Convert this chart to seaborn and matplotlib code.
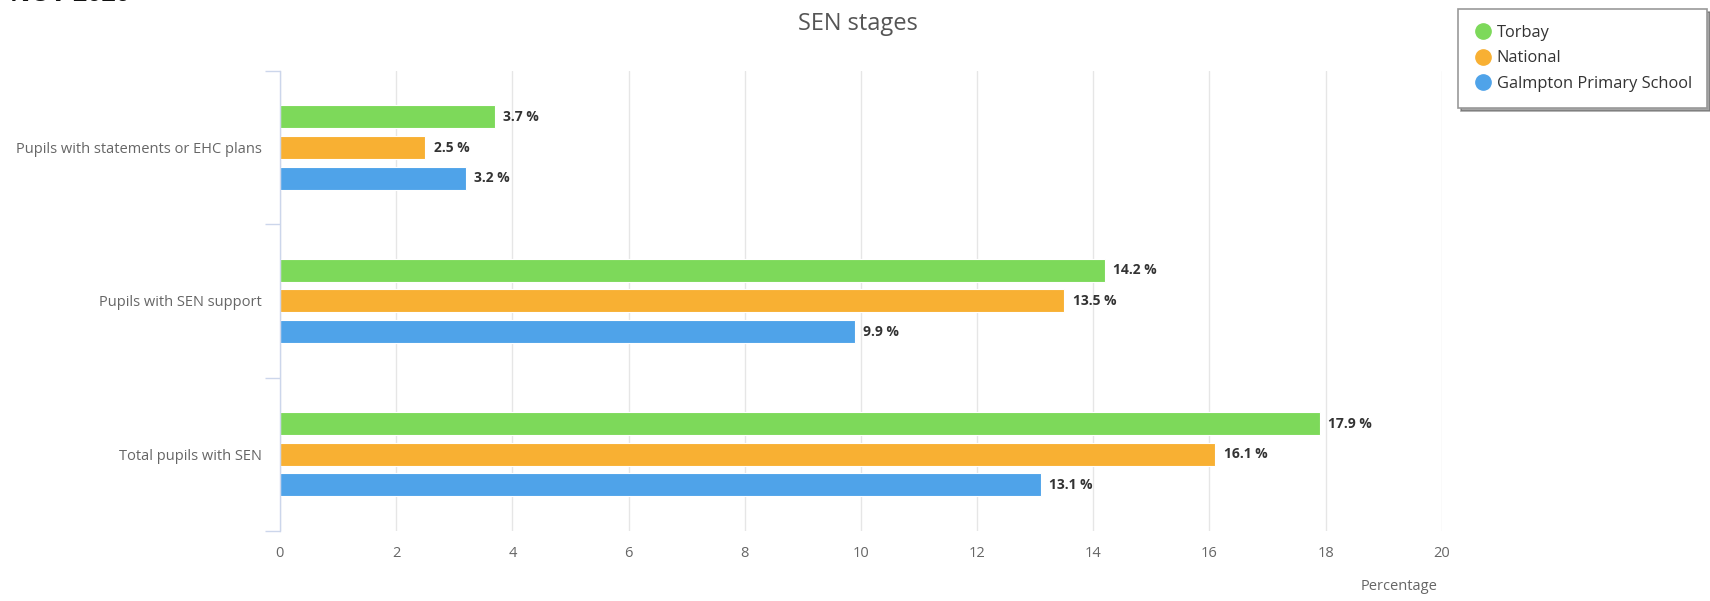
import pandas as pd
import matplotlib.pyplot as plt
import seaborn as sns
from matplotlib.ticker import FixedLocator

# Chart data
categories = ["Pupils with statements or EHC plans", "Pupils with SEN support", "Total pupils with SEN"]
series = ["Torbay", "National", "Galmpton Primary School"]
torbay = [3.7, 14.2, 17.9]
national = [2.5, 13.5, 16.1]
galmpton = [3.2, 9.9, 13.1]
colors = ["#7dd95a", "#f8b033", "#4fa3e9"]

rows = []
for name, vals in zip(series, [torbay, national, galmpton]):
    for cat, v in zip(categories, vals):
        rows.append({"Category": cat, "Series": name, "Value": v})
df = pd.DataFrame(rows)

sns.set_style("white")
plt.rcParams['font.family'] = ['Open Sans', 'DejaVu Sans']

fig = plt.figure(figsize=(17.1, 6.01), dpi=100)
ax = fig.add_axes([0.1637, 0.1165, 0.6795, 0.7654])

sns.barplot(data=df, y="Category", x="Value", hue="Series", order=categories,
            hue_order=series, palette=colors, saturation=1, orient="h",
            width=0.6, gap=0.25, edgecolor="white", linewidth=0.8, ax=ax,
            legend=False)

for cont in ax.containers:
    ax.bar_label(cont, fmt="%.1f %%", padding=6, fontsize=10, fontweight="bold",
                 color="#333333")

ax.set_xlim(0, 20)
ax.set_ylim(2.5, -0.5)
ax.set_xticks(range(0, 21, 2))
ax.tick_params(axis="x", length=0, pad=11, labelsize=10.5, labelcolor="#666666")
ax.xaxis.grid(True, color="#e6e6e6", linewidth=1)
ax.set_axisbelow(True)

# category boundary ticks on the left axis
ax.yaxis.set_minor_locator(FixedLocator([-0.5, 0.5, 1.5, 2.5]))
ax.tick_params(axis="y", which="major", left=False, length=0, pad=13,
               labelsize=10.5, labelcolor="#666666")
ax.tick_params(axis="y", which="minor", left=True, length=11, color="#ccd6eb", width=1)

for s in ["top", "right", "bottom"]:
    ax.spines[s].set_visible(False)
ax.spines["left"].set_color("#ccd6eb")
ax.spines["left"].set_linewidth(1)

ax.set_ylabel("")
ax.set_xlabel("")
fig.text(1399 / 1710, 1 - 586 / 601, "Percentage", ha="center", va="center",
         fontsize=10.5, color="#666666")

fig.text(0.5015, 1 - 24 / 601, "SEN stages", ha="center", va="center",
         fontsize=17, color="#555555")

# heading cut off by the top edge, as in the source image
fig.text(0.006, 1 - 1 / 601, "NOV 2020", ha="left", va="baseline",
         fontsize=18, fontweight="bold", color="#111111")

# legend
handles = [plt.Line2D([], [], marker="o", linestyle="", markersize=11,
                      markerfacecolor=c, markeredgecolor=c) for c in colors]
leg = fig.legend(handles, series, loc="upper left",
                 bbox_to_anchor=(1458 / 1710, 1 - 9 / 601), borderaxespad=0,
                 frameon=True, fontsize=11.8, handletextpad=0.2, labelspacing=0.6,
                 borderpad=0.95, handlelength=1.2, fancybox=False, shadow=True)
leg.get_frame().set_edgecolor("#999999")
leg.get_frame().set_linewidth(1.2)
for t in leg.get_texts():
    t.set_color("#333333")

plt.savefig("out.png", dpi=100)
